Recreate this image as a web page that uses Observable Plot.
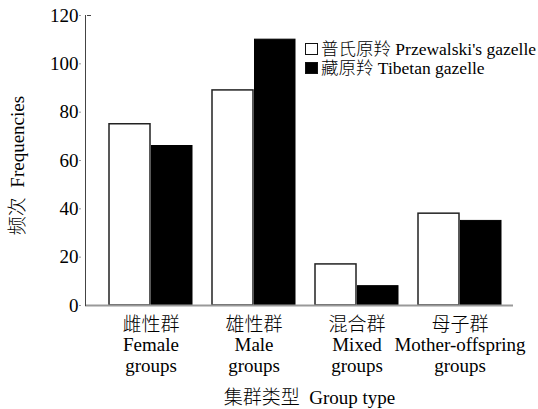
<!DOCTYPE html>
<html>
<head>
<meta charset="utf-8">
<script src="https://cdn.jsdelivr.net/npm/d3@7"></script>
<script src="https://cdn.jsdelivr.net/npm/@observablehq/plot@0.6"></script>
<style>
  html, body { margin: 0; padding: 0; background: #fff; }
  #wrap { position: relative; width: 538px; height: 409px; }
  #wrap svg, #wrap svg text { font-family: "Liberation Serif", "Noto Sans CJK SC", serif !important; font-weight: 300; }
  #legend { position: absolute; left: 305px; top: 40px; font-family: "Liberation Serif", "Noto Sans CJK SC", serif; font-weight: 300; font-size: 17.5px; color: #000; line-height: 18.5px; }
  .row { display: flex; align-items: center; white-space: nowrap; height: 18.5px; }
  .sw { width: 13px; height: 12px; box-sizing: border-box; border: 1.5px solid #111; margin-right: 3px; }
</style>
</head>
<body>
<div id="wrap"></div>
<script>
const groupsZh = ["雌性群", "雄性群", "混合群", "母子群"];
const groupsEn = ["Female\ngroups", "Male\ngroups", "Mixed\ngroups", "Mother-offspring\ngroups"];
const przewalski = [75, 89, 17, 38];
const tibetan = [66, 110, 8, 35];
const yTicks = [0, 20, 40, 60, 80, 100, 120];
const seriesNames = ["普氏原羚 Przewalski's gazelle", "藏原羚 Tibetan gazelle"];
const yLabel = "频次\u2002Frequencies";
const xLabel = "集群类型\u2002Group type";

const rows = groupsZh.map((g, i) => ({group: g, p: przewalski[i], t: tibetan[i]}));
const labelOf = new Map(groupsZh.map((g, i) => [g, g + "\n" + groupsEn[i]]));

const font = "Liberation Serif, Noto Sans CJK SC, serif";

const chart = Plot.plot({
  width: 538,
  height: 409,
  marginLeft: 85,
  marginRight: 25,
  marginTop: 15,
  marginBottom: 104,
  style: {fontFamily: font, fontSize: "19px", background: "white", color: "#000", overflow: "visible"},
  x: {domain: groupsZh, range: [107, 503], paddingInner: 0.19, paddingOuter: 0, axis: null},
  y: {domain: [0, 120], axis: null},
  marks: [
    Plot.barY(rows, {x: "group", y: "p", fill: "white", stroke: "#222", strokeWidth: 1.5, insetRight: 42}),
    Plot.barY(rows, {x: "group", y: "t", fill: "black", stroke: "black", strokeWidth: 1, insetLeft: 42.5}),
    Plot.ruleY([0], {stroke: "#999", strokeWidth: 2}),
    Plot.frame({anchor: "left", stroke: "#444", strokeWidth: 1}),
    Plot.tickY([yTicks[yTicks.length - 1]], {x: () => groupsZh[0], stroke: "#444", strokeWidth: 1, insetRight: 79, dx: -22}),
    Plot.axisY({ticks: yTicks, tickSize: 2, tickPadding: 1, dx: -4, stroke: "#999", fontSize: 19, fontFamily: font, label: null}),
    Plot.axisX({tickSize: 0, tickPadding: 11, tickFormat: d => labelOf.get(d), lineHeight: 1.07, fontSize: 19, fontFamily: font, label: null}),
    Plot.text([yLabel], {frameAnchor: "left", textAnchor: "middle", rotate: -90, dx: -68, dy: 5, fontSize: 19, fontFamily: font, lineAnchor: "middle"}),
    Plot.text([xLabel], {frameAnchor: "bottom", textAnchor: "middle", dy: 92, dx: 10, fontSize: 19, fontFamily: font, lineAnchor: "middle"})
  ]
});

const wrap = document.getElementById("wrap");
wrap.appendChild(chart);

const legend = document.createElement("div");
legend.id = "legend";
seriesNames.forEach((name, i) => {
  const row = document.createElement("div");
  row.className = "row";
  const sw = document.createElement("span");
  sw.className = "sw";
  sw.style.background = i === 0 ? "white" : "black";
  row.appendChild(sw);
  const t = document.createElement("span");
  t.textContent = name;
  row.appendChild(t);
  legend.appendChild(row);
});
wrap.appendChild(legend);
</script>
</body>
</html>
